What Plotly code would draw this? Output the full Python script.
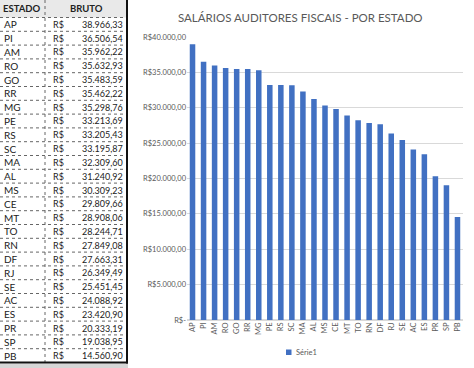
import plotly.graph_objects as go

states = ["AP", "PI", "AM", "RO", "GO", "RR", "MG", "PE", "RS", "SC", "MA", "AL", "MS",
          "CE", "MT", "TO", "RN", "DF", "RJ", "SE", "AC", "ES", "PR", "SP", "PB"]
values = [38966.33, 36506.54, 35962.22, 35632.93, 35483.59, 35462.22, 35298.76, 33213.69,
          33205.43, 33195.87, 32309.60, 31240.92, 30309.23, 29809.66, 28908.06, 28244.71,
          27849.08, 27663.31, 26349.49, 25451.45, 24088.92, 23420.90, 20333.19, 19038.95, 14560.90]
value_labels = ["38.966,33", "36.506,54", "35.962,22", "35.632,93", "35.483,59", "35.462,22",
                "35.298,76", "33.213,69", "33.205,43", "33.195,87", "32.309,60", "31.240,92",
                "30.309,23", "29.809,66", "28.908,06", "28.244,71", "27.849,08", "27.663,31",
                "26.349,49", "25.451,45", "24.088,92", "23.420,90", "20.333,19", "19.038,95",
                "14.560,90"]
ytick_vals = [0, 5000, 10000, 15000, 20000, 25000, 30000, 35000, 40000]
ytick_text = ["R$-", "R$5.000,00", "R$10.000,00", "R$15.000,00", "R$20.000,00",
              "R$25.000,00", "R$30.000,00", "R$35.000,00", "R$40.000,00"]
title_text = "SALÁRIOS AUDITORES FISCAIS - POR ESTADO"
header = ["ESTADO", "BRUTO"]
series_name = "Série1"

W, H = 474, 368
FONT = "Lato"
GRAY = "#595959"
BAR = "#4170C2"


def px(x):
    return x / W


def py(y):
    return 1 - y / H


fig = go.Figure()
fig.add_trace(go.Bar(x=states, y=values, name=series_name, marker_color=BAR,
                     marker_line_width=0, width=0.5, showlegend=False))

shapes = []
annotations = []

# Table
tbl_right = 127
div_x = 45
head_h = 17.5
row_h = 13.8
n = len(states)
bottom = head_h + n * row_h

shapes.append(dict(type="rect", xref="paper", yref="paper", x0=px(0), x1=px(tbl_right),
                   y0=py(head_h), y1=py(0), fillcolor="#e9e9e9", line_width=0, layer="below"))
for i in range(n):
    yb = head_h + i * row_h
    shapes.append(dict(type="line", xref="paper", yref="paper", x0=px(0), x1=px(tbl_right),
                       y0=py(yb), y1=py(yb), line=dict(color="#666666", width=1, dash="dot")))
shapes.append(dict(type="line", xref="paper", yref="paper", x0=px(div_x), x1=px(div_x),
                   y0=py(0), y1=py(bottom), line=dict(color="#666666", width=1, dash="dot")))
shapes.append(dict(type="line", xref="paper", yref="paper", x0=px(tbl_right), x1=px(tbl_right),
                   y0=py(0), y1=py(bottom + 1), line=dict(color="#111111", width=2)))
shapes.append(dict(type="line", xref="paper", yref="paper", x0=px(0), x1=px(tbl_right + 1),
                   y0=py(bottom), y1=py(bottom), line=dict(color="#111111", width=2)))
shapes.append(dict(type="rect", xref="paper", yref="paper", x0=px(0), x1=px(tbl_right + 1),
                   y0=py(H), y1=py(bottom + 1), fillcolor="#d6d6d6", line_width=0, layer="below"))

tf = dict(family=FONT, size=10, color="#222222")
hf = dict(family=FONT, size=9.5, color="#222222")
vf = dict(family=FONT, size=9, color="#222222")
annotations.append(dict(text="<b>" + header[0] + "</b>", x=px(22), y=py(head_h / 2),
                        xref="paper", yref="paper", showarrow=False, xanchor="center",
                        yanchor="middle", font=hf))
annotations.append(dict(text="<b>" + header[1] + "</b>", x=px(86), y=py(head_h / 2),
                        xref="paper", yref="paper", showarrow=False, xanchor="center",
                        yanchor="middle", font=hf))
for i, (s, v) in enumerate(zip(states, value_labels)):
    yc = head_h + (i + 0.5) * row_h
    annotations.append(dict(text=s, x=px(2), y=py(yc), xref="paper", yref="paper",
                            showarrow=False, xanchor="left", yanchor="middle", font=tf))
    annotations.append(dict(text="R$", x=px(51), y=py(yc), xref="paper", yref="paper",
                            showarrow=False, xanchor="left", yanchor="middle", font=vf))
    annotations.append(dict(text=v, x=px(125), y=py(yc), xref="paper", yref="paper",
                            showarrow=False, xanchor="right", yanchor="middle", font=vf))

# Title
annotations.append(dict(text=title_text, x=px(300), y=py(17), xref="paper", yref="paper",
                        showarrow=False, xanchor="center", yanchor="middle",
                        font=dict(family=FONT, size=11.5, color=GRAY)))

# Legend (series key)
shapes.append(dict(type="rect", xref="paper", yref="paper", x0=px(286), x1=px(291.5),
                   y0=py(355), y1=py(349.5), fillcolor=BAR, line_width=0))
annotations.append(dict(text=series_name, x=px(293.5), y=py(352.3), xref="paper", yref="paper",
                        showarrow=False, xanchor="left", yanchor="middle",
                        font=dict(family=FONT, size=7.5, color=GRAY)))

fig.update_layout(
    width=W, height=H,
    margin=dict(l=0, r=0, t=0, b=0),
    paper_bgcolor="white", plot_bgcolor="white",
    shapes=shapes, annotations=annotations,
    showlegend=False,
    xaxis=dict(domain=[px(187), px(463)], tickangle=-90, showgrid=False, showline=False,
               tickfont=dict(family=FONT, size=7.5, color=GRAY), ticks="", automargin=False),
    yaxis=dict(domain=[py(320), py(37)], range=[0, 40000], tickvals=ytick_vals,
               ticktext=ytick_text, showgrid=True, gridcolor="#d9d9d9", gridwidth=1,
               zeroline=True, zerolinecolor="#d9d9d9", showline=False, ticks="",
               tickfont=dict(family=FONT, size=7.5, color=GRAY), automargin=False),
    font=dict(family=FONT),
)

fig.write_html("out.html", config={"displayModeBar": False},
               post_script="document.body.style.margin='0';document.body.style.overflow='hidden';")
